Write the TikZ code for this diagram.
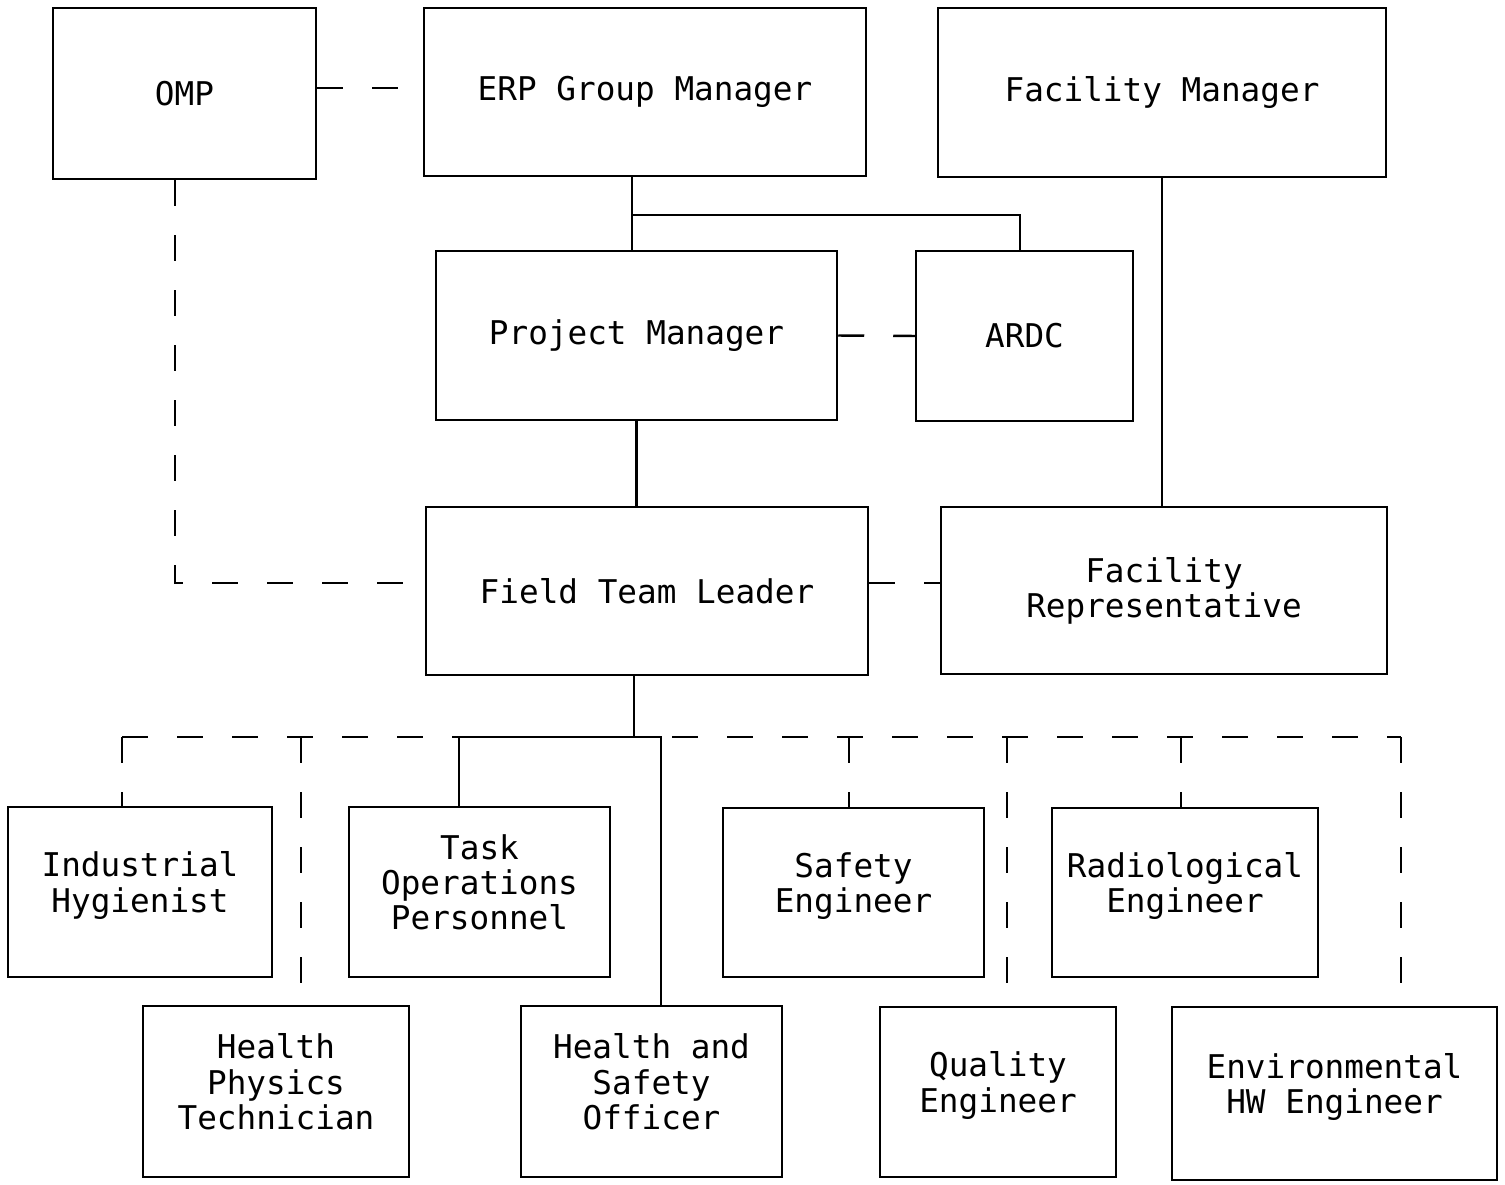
\documentclass[tikz,border=0pt]{standalone}
\usepackage{fontspec}
\setmonofont{DejaVu Sans Mono}
\usepackage{tikz}
\usetikzlibrary{positioning, calc}

\begin{document}
\begin{tikzpicture}
\tikzstyle{unit}=[draw, line width=0.7pt, align=center, inner sep=2pt,
font=\ttfamily\fontsize{9.3}{10}\selectfont]
\tikzstyle{staff}=[unit, text depth=0.2cm]
\tikzstyle{line}=[line width=0.7pt]
\tikzstyle{liaison}=[line width=0.7pt, dash pattern=on 0.26cm off 0.29cm]

\useasboundingbox (0,0) rectangle (15.05,-11.84);

% top row
\node (omp) [unit, minimum width=2.63cm, minimum height=1.71cm] at (1.845,-0.935) {OMP};
\node (erp) [unit, minimum width=4.42cm, minimum height=1.68cm] at (6.45,-0.92) {ERP Group Manager};
\node (fmgr) [unit, minimum width=4.48cm, minimum height=1.69cm] at (11.62,-0.925) {Facility Manager};

% second row
\node (pm) [unit, minimum width=4.01cm, minimum height=1.69cm] at (6.365,-3.355) {Project Manager};
\node (ardc) [unit, minimum width=2.17cm, minimum height=1.70cm] at (10.245,-3.36) {ARDC};

% third row
\node (ftl) [unit, minimum width=4.42cm, minimum height=1.68cm] at (6.47,-5.91) {Field Team Leader};
\node (frep) [unit, minimum width=4.46cm, minimum height=1.67cm] at (11.64,-5.905) {Facility\\Representative};

% staff, upper row
\node (ih) [staff, minimum width=2.64cm, minimum height=1.70cm] at (1.40,-8.92) {Industrial\\Hygienist};
\node (top) [staff, minimum width=2.61cm, minimum height=1.70cm] at (4.795,-8.92) {Task\\Operations\\Personnel};
\node (se) [staff, minimum width=2.61cm, minimum height=1.69cm] at (8.535,-8.925) {Safety\\Engineer};
\node (re) [staff, minimum width=2.66cm, minimum height=1.69cm] at (11.85,-8.925) {Radiological\\Engineer};

% staff, lower row
\node (hpt) [staff, minimum width=2.66cm, minimum height=1.71cm] at (2.76,-10.915) {Health\\Physics\\Technician};
\node (hso) [staff, minimum width=2.61cm, minimum height=1.71cm] at (6.515,-10.915) {Health and\\Safety\\Officer};
\node (qe) [staff, minimum width=2.36cm, minimum height=1.70cm] at (9.98,-10.92) {Quality\\Engineer};
\node (env) [staff, minimum width=3.25cm, minimum height=1.73cm] at (13.345,-10.935) {Environmental\\HW Engineer};

% junctions
\coordinate (jerp) at (6.32,-2.15);
\coordinate (bus) at (6.34,-7.37);

% solid lines
\draw[line] (jerp |- erp.south) -- (jerp |- pm.north);
\draw[line] (jerp) -| ([xshift=-0.045cm]ardc.north);
\draw[line] (fmgr.south) -- (fmgr.south |- frep.north);
\draw[line] (pm.south) -- (pm.south |- ftl.north);
\draw[line] (bus |- ftl.south) -- (bus);
\draw[line] ([xshift=-0.205cm]top.north) |- ([xshift=0.095cm]hso.north |- bus) -- ([xshift=0.095cm]hso.north);

% dashed lines
\draw[liaison] (omp.east |- 0,-0.88) -- (erp.west |- 0,-0.88);
\draw[liaison] ([xshift=-0.095cm]omp.south) |- (ftl.west |- 0,-5.83);
\draw[liaison] (pm.east) -- (ardc.west);
\draw[liaison] (ftl.east |- 0,-5.83) -- (frep.west |- 0,-5.83);
\draw[liaison] ([xshift=-0.18cm]ih.north |- bus) -- ([xshift=0.665cm]env.north |- bus);
\draw[liaison] ([xshift=-0.18cm]ih.north |- bus) -- ([xshift=-0.18cm]ih.north);
\draw[liaison] ([xshift=0.25cm]hpt.north |- bus) -- ([xshift=0.25cm]hpt.north);
\draw[liaison] ([xshift=-0.045cm]se.north |- bus) -- ([xshift=-0.045cm]se.north);
\draw[liaison] ([xshift=0.09cm]qe.north |- bus) -- ([xshift=0.09cm]qe.north);
\draw[liaison] ([xshift=-0.04cm]re.north |- bus) -- ([xshift=-0.04cm]re.north);
\draw[liaison] ([xshift=0.665cm]env.north |- bus) -- ([xshift=0.665cm]env.north);

\end{tikzpicture}
\end{document}
